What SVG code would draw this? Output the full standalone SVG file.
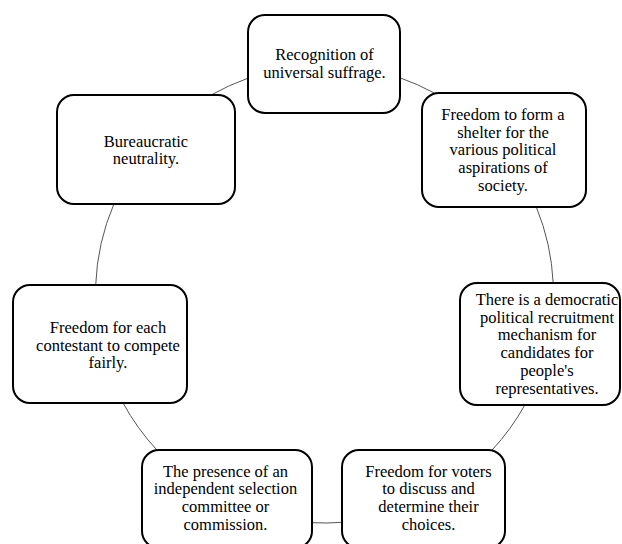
<svg xmlns="http://www.w3.org/2000/svg" width="622" height="544" viewBox="0 0 622 544">
<style>
.box{fill:#fff;stroke:#000;stroke-width:2}
.t{font-family:"Liberation Serif","Times New Roman",serif;font-size:16.5px;fill:#000;text-anchor:middle}
.c{fill:none;stroke:#555;stroke-width:1}
</style>
<rect width="622" height="544" fill="#fff"/>
<g id="connectors">
<path class="c" d="M400 77.8 A229 229 0 0 1 434.2 93"/>
<path class="c" d="M536.3 207 A229 229 0 0 1 553.2 283"/>
<path class="c" d="M524.8 405 A229 229 0 0 1 492.1 450"/>
<path class="c" d="M342 522.3 A229 229 0 0 1 312 522.7"/>
<path class="c" d="M156.9 450 A229 229 0 0 1 123.1 403"/>
<path class="c" d="M95.7 285 A229 229 0 0 1 113.9 204"/>
<path class="c" d="M211.2 95 A229 229 0 0 1 248 78.2"/>
</g>
<g id="n1">
<rect class="box" x="248" y="15" width="152" height="98" rx="17"/>
<text class="t" x="324.5"><tspan x="324.5" y="60">Recognition of</tspan><tspan x="324.5" y="77.7">universal suffrage.</tspan></text>
</g>
<g id="n2">
<rect class="box" x="422" y="93" width="164" height="114" rx="17"/>
<text class="t"><tspan x="503" y="120">Freedom to form a</tspan><tspan x="503" y="137.7">shelter for the</tspan><tspan x="503" y="155.4">various political</tspan><tspan x="503" y="173.1">aspirations of</tspan><tspan x="503" y="190.8">society.</tspan></text>
</g>
<g id="n3">
<rect class="box" x="460" y="283" width="160" height="122" rx="17"/>
<text class="t"><tspan x="547" y="305">There is a democratic</tspan><tspan x="547" y="322.7">political recruitment</tspan><tspan x="547" y="340.4">mechanism for</tspan><tspan x="547" y="358.1">candidates for</tspan><tspan x="547" y="375.8">people's</tspan><tspan x="547" y="393.5">representatives.</tspan></text>
</g>
<g id="n4">
<rect class="box" x="342" y="450" width="163" height="98" rx="17"/>
<text class="t"><tspan x="428.5" y="476.7">Freedom for voters</tspan><tspan x="428.5" y="494.4">to discuss and</tspan><tspan x="428.5" y="512.1">determine their</tspan><tspan x="428.5" y="529.8">choices.</tspan></text>
</g>
<g id="n5">
<rect class="box" x="142" y="450" width="170" height="98" rx="17"/>
<text class="t"><tspan x="225.5" y="476.7">The presence of an</tspan><tspan x="225.5" y="494.4">independent selection</tspan><tspan x="225.5" y="512.1">committee or</tspan><tspan x="225.5" y="529.8">commission.</tspan></text>
</g>
<g id="n6">
<rect class="box" x="13" y="285" width="174" height="118" rx="17"/>
<text class="t"><tspan x="108" y="333.3">Freedom for each</tspan><tspan x="108" y="350.5">contestant to compete</tspan><tspan x="108" y="367.7">fairly.</tspan></text>
</g>
<g id="n7">
<rect class="box" x="57" y="95" width="178" height="109" rx="17"/>
<text class="t"><tspan x="146" y="146.7">Bureaucratic</tspan><tspan x="146" y="164.4">neutrality.</tspan></text>
</g>
</svg>
